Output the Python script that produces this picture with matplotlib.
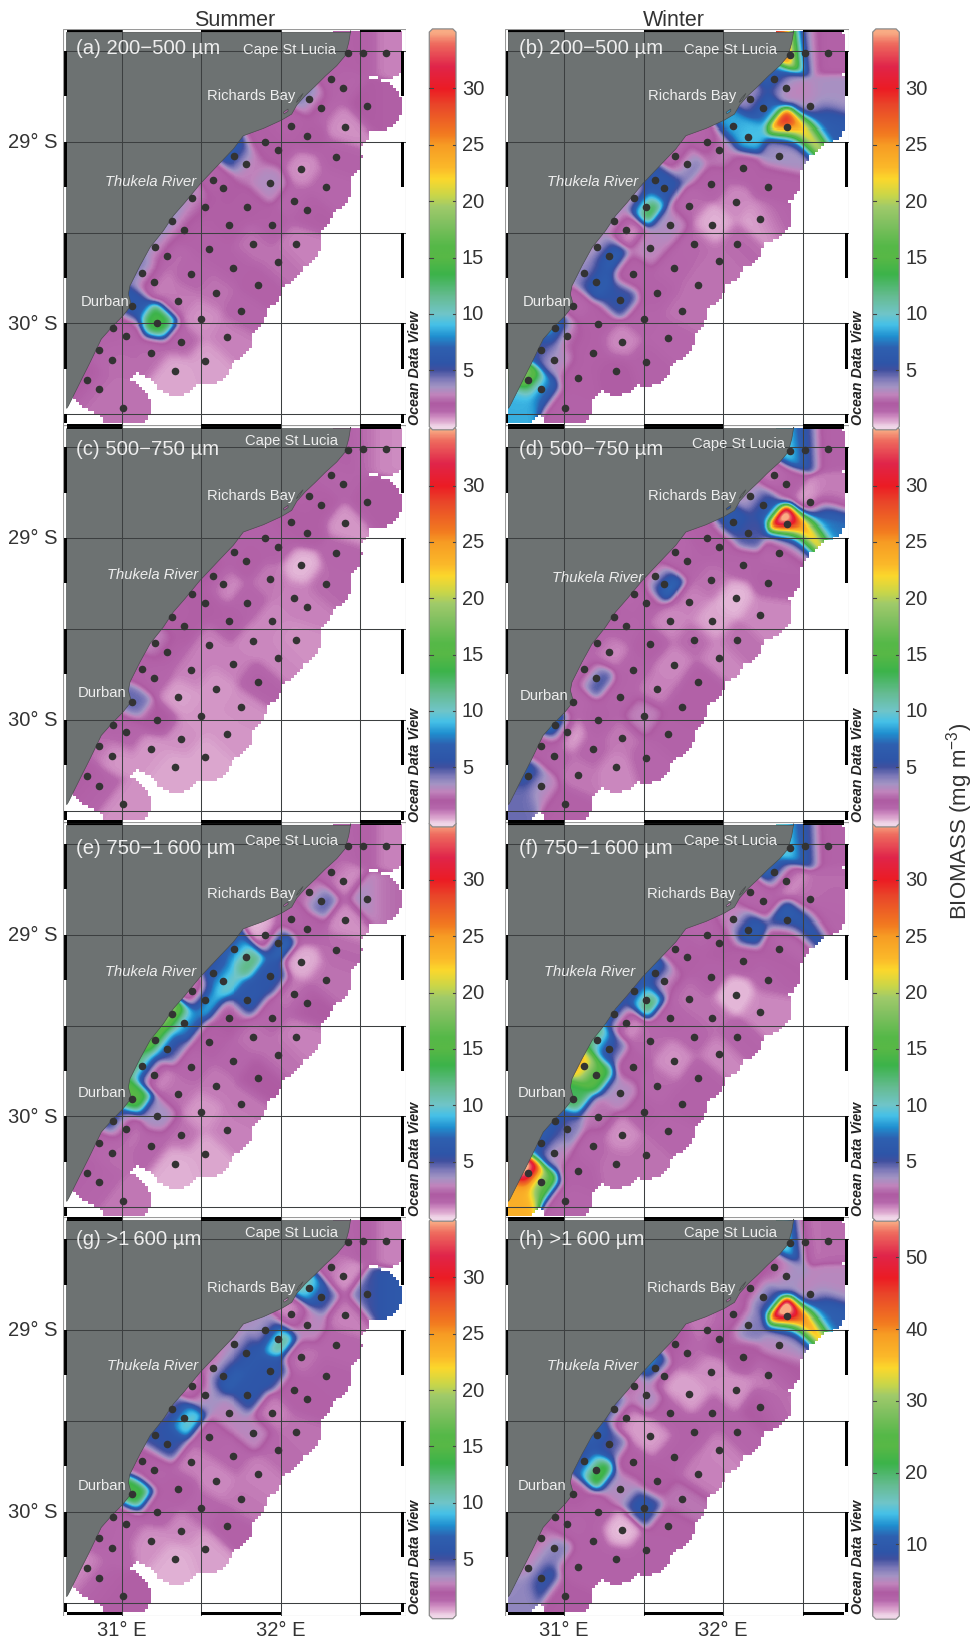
import numpy as np
import matplotlib
matplotlib.use('Agg')  # Use a non-interactive backend
import matplotlib.pyplot as plt
from matplotlib.colors import LinearSegmentedColormap, Normalize
from matplotlib.patches import Rectangle, PathPatch, Polygon
from matplotlib.path import Path

plt.rcParams['font.family'] = ['Liberation Sans', 'DejaVu Sans']
plt.rcParams['mathtext.default'] = 'regular'

# stations, summer survey
summer_lon = [32.426, 32.520, 32.660, 32.317, 32.392, 32.543, 32.180, 32.254, 32.067, 32.407,
              32.168, 31.904, 31.985, 31.709, 31.782, 32.348, 32.130, 31.574, 31.635, 31.935,
              32.283, 31.442, 31.522, 31.790, 32.086, 32.164, 31.317, 31.394, 31.673, 31.943,
              31.210, 31.287, 31.547, 31.828, 32.094, 31.126, 31.205, 31.438, 31.702, 31.981,
              31.855, 31.591, 31.354, 31.063, 31.220, 31.501, 31.748, 30.945, 31.025, 31.371,
              31.660, 30.860, 30.939, 31.187, 31.522, 31.333, 30.782, 30.857, 31.008]
summer_lat = [28.514, 28.510, 28.510, 28.653, 28.705, 28.804, 28.767, 28.817, 28.912, 28.917,
              28.971, 29.000, 29.048, 29.077, 29.125, 29.084, 29.150, 29.211, 29.255, 29.228,
              29.251, 29.308, 29.358, 29.358, 29.328, 29.378, 29.437, 29.486, 29.459, 29.459,
              29.578, 29.628, 29.589, 29.565, 29.561, 29.721, 29.771, 29.728, 29.694, 29.662,
              29.791, 29.833, 29.875, 29.903, 30.000, 29.978, 29.932, 30.028, 30.070, 30.105,
              30.077, 30.147, 30.202, 30.163, 30.206, 30.262, 30.310, 30.363, 30.464]
# grid nodes without a station dot, the map reaches further than the dots there
summer_extra_lon = [32.604]
summer_extra_lat = [28.804]

# stations, winter survey
winter_lon = [32.419, 32.510, 32.654, 32.317, 32.392, 32.542, 32.169, 32.250, 32.058, 32.400,
              32.154, 31.896, 31.973, 31.700, 31.775, 32.348, 32.121, 31.573, 31.627, 31.923,
              32.277, 31.440, 31.517, 31.783, 32.077, 32.229, 31.315, 31.388, 31.667, 31.931,
              31.210, 31.283, 31.542, 31.819, 32.085, 31.125, 31.202, 31.433, 31.688, 31.971,
              31.844, 31.585, 31.354, 31.060, 31.213, 31.500, 31.740, 30.944, 31.023, 31.363,
              31.652, 30.860, 30.937, 31.181, 31.517, 31.329, 30.779, 30.856, 31.010, 31.090]
winter_lat = [28.523, 28.514, 28.510, 28.653, 28.703, 28.804, 28.767, 28.817, 28.912, 28.921,
              28.974, 29.000, 29.048, 29.077, 29.125, 29.081, 29.147, 29.211, 29.255, 29.231,
              29.248, 29.308, 29.358, 29.354, 29.332, 29.424, 29.437, 29.486, 29.459, 29.459,
              29.578, 29.628, 29.585, 29.561, 29.561, 29.721, 29.771, 29.727, 29.697, 29.659,
              29.791, 29.833, 29.873, 29.903, 30.002, 29.978, 29.932, 30.028, 30.070, 30.101,
              30.079, 30.147, 30.202, 30.163, 30.211, 30.262, 30.310, 30.363, 30.464, 30.303]
winter_extra_lon = [32.498, 32.660, 32.320, 32.269, 32.400, 32.620, 30.720]
winter_extra_lat = [28.940, 28.760, 29.215, 29.407, 29.020, 28.870, 30.420]

# biomass per panel: station values, then the nodes without a dot
biomass_a = [1.7, 1.7, 1.0, 1.6, 1.5, 2.0, 3.5, 1.8, 1.6, 0.8, 1.8, 1.8, 1.8, 5.5, 3.3, 1.6, 0.8, 1.6, 1.8, 3.2,
             1.4, 3.0, 2.0, 1.8, 1.4, 1.7, 3.4, 2.0, 1.8, 1.7, 3.2, 1.6, 1.6, 1.2, 1.0, 3.5, 1.4, 1.4, 1.6, 1.2,
             1.7, 1.2, 1.1, 6.0, 14.0, 0.8, 1.4, 1.6, 1.5, 1.4, 1.0, 1.5, 1.3, 1.3, 0.6, 0.5, 1.8, 1.3, 1.2, 1.9]
biomass_c = [1.6, 1.3, 0.9, 1.5, 1.5, 1.8, 1.7, 1.8, 1.8, 0.7, 1.8, 1.6, 1.6, 1.6, 1.7, 1.4, 0.3, 1.7, 1.1, 1.1,
             1.3, 1.8, 1.8, 1.5, 1.0, 1.0, 1.7, 1.8, 1.7, 0.9, 2.7, 1.8, 1.0, 0.9, 0.8, 1.6, 1.5, 1.0, 1.0, 0.9,
             1.6, 0.7, 0.6, 4.5, 2.0, 0.7, 0.8, 1.6, 1.5, 0.8, 0.7, 1.2, 0.8, 0.7, 0.5, 0.5, 1.8, 1.6, 0.8, 1.8]
biomass_e = [1.5, 1.7, 1.0, 1.3, 0.9, 3.2, 2.6, 4.2, 1.5, 0.8, 1.6, 0.9, 6.0, 7.5, 11.0, 1.3, 0.4, 6.5, 9.0, 5.8,
             1.2, 1.3, 7.0, 6.0, 1.2, 1.8, 17.0, 9.0, 2.0, 1.4, 15.0, 6.5, 1.7, 1.2, 1.0, 10.0, 2.0, 1.4, 1.4, 1.2,
             2.0, 1.1, 1.2, 15.0, 3.5, 0.7, 1.1, 5.0, 1.8, 1.2, 1.0, 1.5, 1.3, 1.4, 0.5, 0.4, 1.6, 1.5, 1.1, 2.8]
biomass_g = [1.5, 1.7, 1.0, 1.2, 0.8, 5.0, 9.5, 6.0, 1.0, 1.0, 2.8, 4.5, 10.0, 3.5, 5.5, 1.4, 1.2, 3.2, 5.5, 5.8,
             1.6, 1.2, 3.0, 5.8, 1.7, 1.7, 5.0, 9.0, 3.0, 1.0, 5.5, 5.5, 1.5, 3.0, 1.2, 1.8, 1.6, 1.0, 1.4, 1.3,
             1.0, 0.9, 1.7, 14.0, 1.6, 1.4, 1.1, 1.5, 1.4, 0.9, 1.7, 1.5, 1.4, 0.8, 0.6, 0.4, 1.0, 1.5, 1.8, 5.5]
biomass_b = [22.0, 6.0, 1.7, 6.0, 3.5, 3.5, 4.0, 6.5, 8.5, 26.0, 9.0, 1.7, 2.5, 1.5, 3.4, 3.6, 1.7, 6.0, 6.0, 1.6,
             1.7, 3.5, 11.0, 1.3, 0.9, 0.8, 3.2, 1.2, 3.2, 0.4, 3.5, 6.0, 3.0, 1.3, 1.3, 4.0, 6.0, 1.6, 1.4, 1.2,
             1.2, 1.6, 5.5, 1.4, 1.7, 1.5, 1.2, 7.5, 3.0, 0.9, 1.4, 5.0, 3.5, 1.7, 1.6, 1.9, 16.0, 8.5, 1.6, 1.7,
             22.0, 3.5, 1.7, 1.0, 5.0, 6.0, 9.0]
biomass_d = [9.0, 6.0, 1.7, 1.2, 1.6, 1.1, 3.5, 5.5, 6.0, 32.0, 5.0, 1.7, 1.6, 1.4, 1.5, 1.7, 1.5, 3.2, 6.0, 1.2,
             1.6, 1.4, 1.6, 1.0, 0.3, 0.9, 1.6, 1.5, 0.9, 0.5, 1.4, 1.0, 1.7, 1.3, 1.2, 1.6, 4.2, 1.5, 0.9, 0.9,
             1.7, 1.0, 1.5, 1.4, 1.6, 2.8, 1.7, 7.0, 1.4, 1.1, 1.6, 1.7, 1.5, 1.4, 1.4, 0.9, 5.5, 3.5, 1.7, 1.1,
             24.0, 1.2, 1.6, 0.9, 5.0, 6.0, 4.5]
biomass_f = [9.0, 6.0, 1.7, 6.0, 1.6, 1.3, 1.4, 1.5, 3.0, 6.0, 6.0, 1.5, 1.8, 1.6, 1.7, 1.6, 1.7, 6.0, 3.5, 1.6,
             1.5, 5.5, 11.0, 1.2, 0.2, 0.9, 6.0, 1.6, 1.5, 1.2, 11.0, 6.0, 1.3, 1.4, 1.5, 22.0, 16.0, 1.7, 0.8, 0.9,
             1.6, 1.3, 3.2, 13.0, 2.5, 1.6, 1.6, 6.0, 4.5, 0.8, 1.4, 6.0, 3.5, 1.4, 1.2, 1.2, 33.0, 19.0, 1.5, 1.6,
             6.0, 1.3, 1.6, 0.9, 1.6, 1.5, 24.0]
biomass_h = [13.0, 3.5, 2.0, 3.5, 5.0, 5.5, 3.0, 6.5, 2.5, 52.0, 6.0, 2.0, 3.0, 3.0, 2.2, 5.0, 3.0, 9.0, 3.0, 1.3,
             2.0, 4.0, 5.0, 0.9, 1.2, 2.8, 7.0, 2.0, 2.5, 2.3, 10.0, 8.0, 1.0, 2.5, 2.3, 10.0, 20.0, 2.7, 2.5, 1.5,
             1.6, 2.8, 5.0, 3.0, 2.5, 9.0, 4.0, 2.8, 2.5, 0.4, 2.6, 4.0, 6.0, 2.5, 2.5, 2.5, 5.0, 8.0, 3.0, 2.5,
             40.0, 5.0, 2.5, 2.5, 9.0, 10.0, 6.0]

# coastline north to south
coast_lon = [32.440, 32.428, 32.405, 32.352, 32.279, 32.216, 32.153, 32.101, 32.069, 32.006, 31.891, 31.765,
             31.702, 31.618, 31.493, 31.398, 31.325, 31.262, 31.178, 31.115, 31.052, 31.042, 31.061, 31.008,
             30.937, 30.872, 30.801, 30.738, 30.665, 30.654]
coast_lat = [28.389, 28.453, 28.527, 28.582, 28.640, 28.695, 28.747, 28.798, 28.848, 28.881, 28.927, 28.967,
             29.040, 29.117, 29.233, 29.334, 29.407, 29.490, 29.582, 29.683, 29.793, 29.839, 29.899, 29.958,
             30.022, 30.086, 30.215, 30.325, 30.453, 30.468]
# Richards Bay and the small pond south of it
bay_lon = [32.141, 32.113, 32.098, 32.117]
bay_lat = [28.734, 28.760, 28.784, 28.771]
pond_lon = [32.017, 32.046, 32.046, 32.021]
pond_lat = [28.838, 28.820, 28.833, 28.847]

grid_lon = [31.0, 31.5, 32.0, 32.5]
grid_lat = [28.5, 29.0, 29.5, 30.0, 30.5]
cbar_ticks = [5, 10, 15, 20, 25, 30]
cbar_ticks_h = [10, 20, 30, 40, 50]

# position -> colour of the Ocean Data View palette, given for a 0-35 scale
palette_pos = [0, 0.25, 0.8, 1.3, 2.0, 2.8, 3.5, 4.2, 5.0, 5.6, 7.0, 8.0, 9.0, 10.0, 11.5, 13.5, 15.0, 16.0,
               18.0, 19.5, 20.5, 22.0, 23.0, 25.0, 26.0, 28.5, 30.0, 32.0, 34.0, 35.0]
palette_col = ['#F0D6E8', '#E4B8D8', '#CF8EC2', '#B668AC', '#AE5BA2', '#C084BC', '#A394C4', '#7C78B8', '#40509F',
               '#2E55A8', '#2E60B0', '#2090D0', '#45C0E8', '#70C5C8', '#66BC94', '#3CB34A', '#58B846', '#55B848',
               '#80C060', '#9FCA6A', '#C8D64A', '#FCD82C', '#FBB92A', '#F79C24', '#F27A20', '#E9482A', '#EC1C24',
               '#E0254A', '#EE6A5E', '#F9AB84']
odv = LinearSegmentedColormap.from_list('odv', [(p / 35, c) for p, c in zip(palette_pos, palette_col)], N=512)
odv.set_bad((1, 1, 1, 0))

W, H = 973, 1640
LAND = '#6D7272'
LON0, LON1, LAT0, LAT1 = 30.633, 32.786, 28.38, 30.572
FLON0, FLON1, FLAT0, FLAT1 = 30.654, 32.757, 28.398, 30.55
RADIUS = 0.143
LENGTH = 0.07

fig = plt.figure(figsize=(W / 100, H / 100), dpi=100)


def px_axes(x0, y0, x1, y1):
    return fig.add_axes([x0 / W, 1 - y1 / H, (x1 - x0) / W, (y1 - y0) / H])


def make_field(lons, lats, vals):
    cell = 3
    nx, ny = 112, 130
    lon_c = np.linspace(FLON0, FLON1, nx)
    lat_c = np.linspace(FLAT0, FLAT1, ny)
    gx, gy = np.meshgrid(lon_c, lat_c)
    d = np.hypot((gx[..., None] - lons) * 0.875, gy[..., None] - lats)
    mask = d.min(axis=-1) > RADIUS
    mask = np.repeat(np.repeat(mask, cell, axis=0), cell, axis=1)

    # normalised gaussian weights on the square root of the biomass, through the values at the nodes
    dn2 = ((lons[:, None] - lons) * 0.875) ** 2 + (lats[:, None] - lats) ** 2
    a = np.exp(-dn2 / LENGTH ** 2)
    a = a / a.sum(axis=1, keepdims=True)
    coef = np.linalg.solve(a, np.sqrt(vals))

    gx, gy = np.meshgrid(np.linspace(FLON0, FLON1, nx * cell), np.linspace(FLAT0, FLAT1, ny * cell))
    d2 = ((gx[..., None] - lons) * 0.875) ** 2 + (gy[..., None] - lats) ** 2
    w = np.exp(-d2 / LENGTH ** 2) + 1e-200
    f = np.clip((w * coef).sum(axis=-1) / w.sum(axis=-1), 0.55, None) ** 2
    return np.ma.array(f, mask=mask)


def draw_map(ax, st_lon, st_lat, ex_lon, ex_lat, vals, vmax):
    lons = np.array(st_lon + ex_lon)
    lats = np.array(st_lat + ex_lat)
    ax.imshow(make_field(lons, lats, np.array(vals)), extent=(FLON0, FLON1, FLAT1, FLAT0), cmap=odv,
              norm=Normalize(0, vmax), interpolation='nearest', aspect='auto', zorder=1)

    # land with the two small water bodies left open
    land = list(zip(coast_lon, coast_lat)) + [(FLON0, FLAT0), (coast_lon[0], FLAT0)]
    verts = land + [land[0]]
    codes = [Path.MOVETO] + [Path.LINETO] * (len(land) - 1) + [Path.CLOSEPOLY]
    for hx, hy in [(bay_lon, bay_lat), (pond_lon, pond_lat)]:
        hole = list(zip(hx, hy))[::-1]
        verts += hole + [hole[0]]
        codes += [Path.MOVETO] + [Path.LINETO] * (len(hole) - 1) + [Path.CLOSEPOLY]
    ax.add_patch(PathPatch(Path(verts, codes), facecolor=LAND, edgecolor='#4A4E4E', lw=0.5, zorder=2))

    for g in grid_lon:
        ax.plot([g, g], [LAT0, LAT1], color='#3C3F40', lw=0.75, zorder=3)
    for g in grid_lat:
        ax.plot([LON0, LON1], [g, g], color='#3C3F40', lw=0.75, zorder=3)

    ax.scatter(st_lon, st_lat, s=30, color='#333333', linewidths=0, zorder=4)

    # black and white border of the map frame
    ax.add_patch(Rectangle((LON0, LAT0), LON1 - LON0, LAT1 - LAT0, fc='none', ec='#9A9A9A', lw=0.8, zorder=6))
    top_edges = [FLON0, 31.0, 31.5, 32.0, 32.5, FLON1]
    for i in range(0, 5, 2):
        x0, x1 = top_edges[i], top_edges[i + 1]
        ax.add_patch(Rectangle((x0, LAT0 + 0.004), x1 - x0, 0.014, fc='black', ec='none', zorder=5))
        ax.add_patch(Rectangle((x0, FLAT1 + 0.002), x1 - x0, 0.016, fc='black', ec='none', zorder=5))
    for y0 in np.arange(28.5, 30.5, 0.5):
        for x0 in [LON0 + 0.003, FLON1 + 0.002]:
            ax.add_patch(Rectangle((x0, y0), 0.018, 0.25, fc='black', ec='none', zorder=5))
    for x0 in [LON0 + 0.003, FLON1 + 0.002]:
        ax.add_patch(Rectangle((x0, 30.5), 0.018, FLAT1 - 30.5, fc='black', ec='none', zorder=5))

    ax.set_xlim(LON0, LON1)
    ax.set_ylim(LAT1, LAT0)
    ax.axis('off')


def draw_cbar(x0, x1, y0, vmax, ticks):
    scale = 394.5 / vmax
    cap = 3.2 / scale
    cax = px_axes(x0, y0 - 394.5 - 3.2, x1, y0 + 3.2)
    grad = np.linspace(vmax + cap, -cap, 600)[:, None]
    im = cax.imshow(grad, extent=(0, 1, -cap, vmax + cap), cmap=odv, norm=Normalize(0, vmax), aspect='auto')
    outline = [(0, vmax), (0.12, vmax + cap), (0.88, vmax + cap), (1, vmax), (1, 0), (0.88, -cap), (0.12, -cap), (0, 0)]
    p = Polygon(outline, closed=True, fc='none', ec='#8A8A8A', lw=0.9, clip_on=False)
    cax.add_patch(p)
    im.set_clip_path(p)
    for t in ticks:
        cax.plot([0, 0.13], [t, t], color='#444444', lw=0.8)
        cax.plot([0.87, 1], [t, t], color='#444444', lw=0.8)
        cax.text(1.22, t, str(t), fontsize=14.5, color='#333333', va='center', ha='left', clip_on=False)
    cax.set_xlim(0, 1)
    cax.set_ylim(-cap, vmax + cap)
    cax.axis('off')


# panel: top of 29 deg line in pixels, column, data and label places
panels = [
    ('g', 1331.0, 0, biomass_g, 35, '(g) >1\u2009600 \u00b5m', (30.713, 28.494), (31.776, 28.462), (31.535, 28.763), (30.91, 29.195), (30.725, 29.851), 1616.5),
    ('h', 1331.0, 1, biomass_h, 55, '(h) >1\u2009600 \u00b5m', (30.723, 28.494), (31.756, 28.462), (31.519, 28.763), (30.894, 29.195), (30.713, 29.851), 1617.0),
    ('e', 935.7, 0, biomass_e, 35, '(e) 750\u22121\u2009600 \u00b5m', (30.713, 28.519), (31.776, 28.477), (31.535, 28.769), (30.895, 29.2), (30.725, 29.868), 1219.0),
    ('f', 935.7, 1, biomass_f, 35, '(f) 750\u22121\u2009600 \u00b5m', (30.723, 28.519), (31.756, 28.477), (31.519, 28.769), (30.877, 29.2), (30.713, 29.868), 1219.0),
    ('c', 539.0, 0, biomass_c, 35, '(c) 500\u2212750 \u00b5m', (30.713, 28.505), (31.776, 28.461), (31.535, 28.761), (30.91, 29.2), (30.725, 29.85), 824.7),
    ('d', 539.0, 1, biomass_d, 35, '(d) 500\u2212750 \u00b5m', (30.723, 28.505), (31.804, 28.477), (31.531, 28.761), (30.925, 29.213), (30.727, 29.864), 824.7),
    ('a', 142.7, 0, biomass_a, 35, '(a) 200\u2212500 \u00b5m', (30.713, 28.481), (31.761, 28.49), (31.535, 28.743), (30.895, 29.218), (30.744, 29.875), 427.6),
    ('b', 142.7, 1, biomass_b, 35, '(b) 200\u2212500 \u00b5m', (30.723, 28.481), (31.756, 28.49), (31.531, 28.743), (30.894, 29.218), (30.744, 29.875), 427.6),
]

for name, y29, col, vals, vmax, label, lab_xy, csl_xy, rb_xy, tr_xy, dur_xy, y0 in panels:
    top = y29 - 0.62 * 181.7
    bottom = y29 + 1.572 * 181.7
    if col == 0:
        ax = px_axes(63.3, top, 405.7, bottom)
        draw_map(ax, summer_lon, summer_lat, summer_extra_lon, summer_extra_lat, vals, vmax)
        draw_cbar(429.3, 456.0, y0, vmax, cbar_ticks)
        odv_x = 415.0
    else:
        ax = px_axes(505.0, top, 849.0, bottom)
        draw_map(ax, winter_lon, winter_lat, winter_extra_lon, winter_extra_lat, vals, vmax)
        draw_cbar(872.7, 899.3, y0, vmax, cbar_ticks_h if name == 'h' else cbar_ticks)
        odv_x = 857.7

    ax.text(lab_xy[0], lab_xy[1], label, color='#EEEEEE', fontsize=14.6, va='center', zorder=7)
    for xy, txt, style in [(csl_xy, 'Cape St Lucia', 'normal'), (rb_xy, 'Richards Bay', 'normal'),
                           (tr_xy, 'Thukela River', 'italic'), (dur_xy, 'Durban', 'normal')]:
        ax.text(xy[0], xy[1], txt, color='#EEEEEE', fontsize=10.6, style=style, va='center', zorder=7)

    fig.text(odv_x / W, 1 - (y0 - 60) / H, 'Ocean Data View', rotation=90, fontsize=10.3, fontweight='bold',
             style='italic', color='#222222', ha='center', va='center')

    if col == 0:
        fig.text(58 / W, 1 - y29 / H, '29\u00b0 S', fontsize=14.5, color='#333333', ha='right', va='center')
        fig.text(58 / W, 1 - (y29 + 182) / H, '30\u00b0 S', fontsize=14.5, color='#333333', ha='right', va='center')

# lowest row lon labels
for x, txt in [(121.7, '31\u00b0 E'), (281.0, '32\u00b0 E'), (563.7, '31\u00b0 E'), (723.0, '32\u00b0 E')]:
    fig.text(x / W, 1 - 1631 / H, txt, fontsize=14.5, color='#333333', ha='center', va='center')

fig.text(235 / W, 1 - 20 / H, 'Summer', fontsize=15.5, color='#333333', ha='center', va='center')
fig.text(674 / W, 1 - 20 / H, 'Winter', fontsize=15.5, color='#333333', ha='center', va='center')
fig.text(960 / W, 1 - 821 / H, 'BIOMASS (mg m$^{-3}$)', rotation=90, fontsize=16, color='#333333',
         ha='center', va='center')

fig.savefig('out.png', dpi=100)
plt.close()
